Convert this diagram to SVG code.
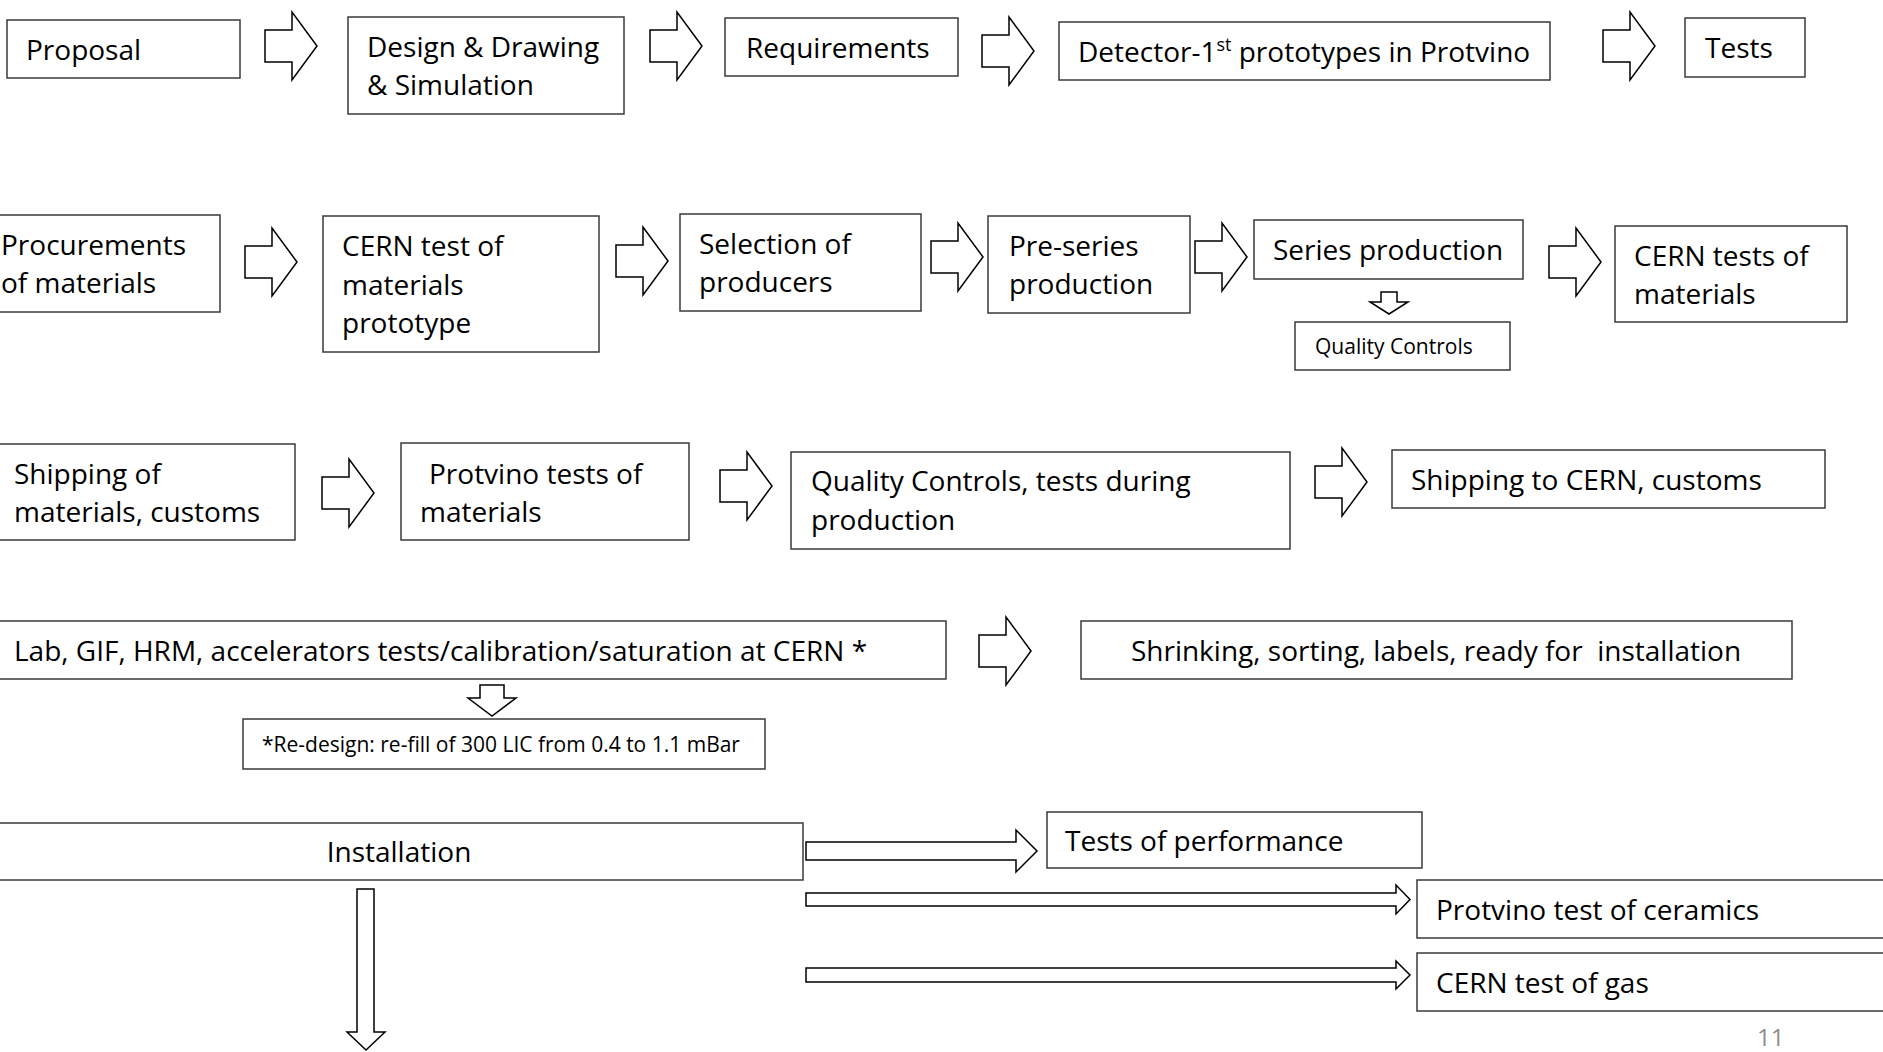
<svg xmlns="http://www.w3.org/2000/svg" width="1883" height="1052" viewBox="0 0 1883 1052">
<style>
.b{fill:#fff;stroke:#3a3a3a;stroke-width:1.5}
.t{font-family:"Open Sans","Liberation Sans",sans-serif;font-size:28px;fill:#000}
.s{font-family:"Open Sans","Liberation Sans",sans-serif;font-size:21px;fill:#000}
.a{fill:#fff;stroke:#000;stroke-width:1.5;stroke-linejoin:miter}
</style>
<defs>
<path id="ar" d="M0,-16 H27 V-34 L52,0 L27,34 V16 H0 Z"/>
</defs>
<rect width="1883" height="1052" fill="#fff"/>
<g id="connectors">
<use href="#ar" class="a" x="265" y="46"/>
<use href="#ar" class="a" x="650" y="46"/>
<use href="#ar" class="a" x="982" y="51"/>
<use href="#ar" class="a" x="1603" y="46"/>
<use href="#ar" class="a" x="245" y="262"/>
<use href="#ar" class="a" x="616" y="261"/>
<use href="#ar" class="a" x="931" y="257"/>
<use href="#ar" class="a" x="1195" y="257"/>
<use href="#ar" class="a" x="1549" y="262"/>
<use href="#ar" class="a" x="322" y="493"/>
<use href="#ar" class="a" x="720" y="486"/>
<use href="#ar" class="a" x="1315" y="482"/>
<use href="#ar" class="a" x="979" y="651"/>
<path class="a" d="M1381,292 H1397 V302 H1408 L1389,314 L1370,302 H1381 Z"/>
<path class="a" d="M480,685 H504 V698 H516 L492,716 L468,698 H480 Z"/>
<path class="a" d="M357,889 H374 V1032 H385 L366,1050 L347,1032 H357 Z"/>
<path class="a" d="M806,842 H1016 V830 L1037,851 L1016,872 V860 H806 Z"/>
<path class="a" d="M806,893 H1396 V885 L1410,899.5 L1396,914 V906 H806 Z"/>
<path class="a" d="M806,968 H1396 V961 L1410,975 L1396,989 V982 H806 Z"/>
</g>
<g id="proposal"><rect class="b" x="7" y="20" width="233" height="58"/><text class="t" x="26" y="60">Proposal</text></g>
<g id="design"><rect class="b" x="348" y="17" width="276" height="97"/><text class="t" x="367" y="57">Design &amp; Drawing</text><text class="t" x="367" y="95">&amp; Simulation</text></g>
<g id="requirements"><rect class="b" x="725" y="18" width="233" height="58"/><text class="t" x="746" y="58">Requirements</text></g>
<g id="detector"><rect class="b" x="1059" y="22" width="491" height="58"/><text class="t" x="1078" y="62">Detector-1<tspan font-size="18" dy="-11">st</tspan><tspan dy="11"> prototypes in Protvino</tspan></text></g>
<g id="tests"><rect class="b" x="1685" y="18" width="120" height="59"/><text class="t" x="1705" y="58">Tests</text></g>
<g id="procurements"><rect class="b" x="-20" y="215" width="240" height="97"/><text class="t" x="1" y="255">Procurements</text><text class="t" x="1" y="293">of materials</text></g>
<g id="cern-test-prototype"><rect class="b" x="323" y="216" width="276" height="136"/><text class="t" x="342" y="256">CERN test of</text><text class="t" x="342" y="294.5">materials</text><text class="t" x="342" y="333">prototype</text></g>
<g id="selection"><rect class="b" x="680" y="214" width="241" height="97"/><text class="t" x="699" y="254">Selection of</text><text class="t" x="699" y="292">producers</text></g>
<g id="pre-series"><rect class="b" x="988" y="216" width="202" height="97"/><text class="t" x="1009" y="256">Pre-series</text><text class="t" x="1009" y="294">production</text></g>
<g id="series"><rect class="b" x="1254" y="220" width="269" height="59"/><text class="t" x="1273" y="260">Series production</text></g>
<g id="quality-controls"><rect class="b" x="1295" y="322" width="215" height="48"/><text class="s" x="1315" y="353.5">Quality Controls</text></g>
<g id="cern-tests-materials"><rect class="b" x="1615" y="226" width="232" height="96"/><text class="t" x="1634" y="266">CERN tests of</text><text class="t" x="1634" y="304">materials</text></g>
<g id="shipping-materials"><rect class="b" x="-20" y="444" width="315" height="96"/><text class="t" x="14" y="484">Shipping of</text><text class="t" x="14" y="522">materials, customs</text></g>
<g id="protvino-tests"><rect class="b" x="401" y="443" width="288" height="97"/><text class="t" x="429" y="484">Protvino tests of</text><text class="t" x="420" y="522">materials</text></g>
<g id="qc-tests"><rect class="b" x="791" y="452" width="499" height="97"/><text class="t" x="811" y="491">Quality Controls, tests during</text><text class="t" x="811" y="530">production</text></g>
<g id="shipping-cern"><rect class="b" x="1392" y="450" width="433" height="58"/><text class="t" x="1411" y="490">Shipping to CERN, customs</text></g>
<g id="lab"><rect class="b" x="-20" y="621" width="966" height="58"/><text class="t" x="14" y="661">Lab, GIF, HRM, accelerators tests/calibration/saturation at CERN *</text></g>
<g id="shrinking"><rect class="b" x="1081" y="621" width="711" height="58"/><text class="t" x="1436" y="661" text-anchor="middle" style="white-space:pre">Shrinking, sorting, labels, ready for  installation</text></g>
<g id="redesign"><rect class="b" x="243" y="719" width="522" height="50"/><text class="s" x="262" y="751.5">*Re-design: re-fill of 300 LIC from 0.4 to 1.1 mBar</text></g>
<g id="installation"><rect class="b" x="-5" y="823" width="808" height="57"/><text class="t" x="399" y="862" text-anchor="middle">Installation</text></g>
<g id="tests-performance"><rect class="b" x="1047" y="812" width="375" height="56"/><text class="t" x="1065" y="851">Tests of performance</text></g>
<g id="protvino-ceramics"><rect class="b" x="1417" y="880" width="480" height="58"/><text class="t" x="1436" y="920">Protvino test of ceramics</text></g>
<g id="cern-gas"><rect class="b" x="1417" y="953" width="480" height="58"/><text class="t" x="1436" y="993">CERN test of gas</text></g>
<text x="1757" y="1046" font-family="'Open Sans','Liberation Sans',sans-serif" font-size="24" fill="#8c8c8c">11</text>
</svg>
